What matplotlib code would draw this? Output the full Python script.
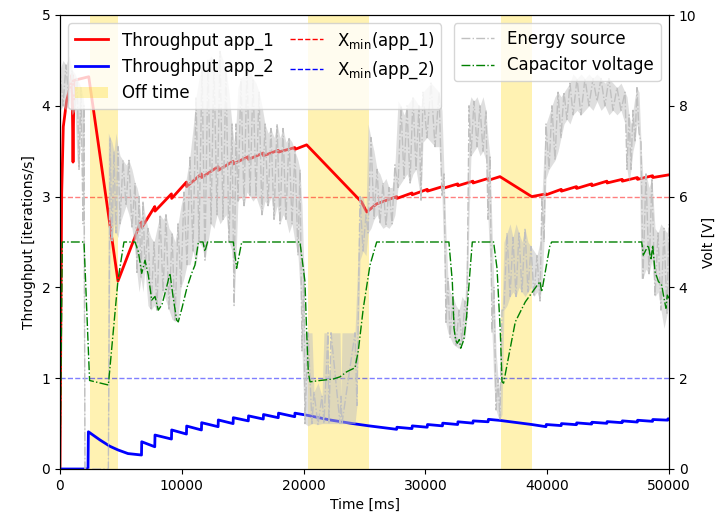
import matplotlib
matplotlib.use("Agg")
import matplotlib.pyplot as plt
import numpy as np
from matplotlib.patches import Patch

# ---- throughput of app_1 [iterations/s] ----
app1_t = [0, 80, 140, 270, 550, 820, 985, 1070, 1150, 2360, 4760,
          6570, 6710, 6720, 7780, 7800, 9150, 9170, 10380, 10400, 11610, 11630,
          12980, 13000, 14210, 14230, 15460, 15480, 16690, 16710, 17920, 17940,
          19270, 19290, 20250, 24760, 25180, 26000,
          27640, 27660, 28900, 28920, 30150, 30170, 31400, 31420, 32650, 32670,
          33900, 33920, 35150, 35170, 36120, 38730,
          39900, 39920, 41150, 41170, 42400, 42420, 43650, 43670, 44900, 44920,
          46150, 46170, 47400, 47420, 48650, 48670, 50000]
app1_v = [0.0, 1.86, 3.04, 3.77, 4.06, 4.20, 4.34, 3.38, 4.28, 4.32, 2.07,
          2.70, 2.72, 2.66, 2.89, 2.84, 3.03, 2.98, 3.16, 3.11, 3.25, 3.21,
          3.33, 3.29, 3.39, 3.36, 3.44, 3.41, 3.48, 3.45, 3.51, 3.49,
          3.54, 3.52, 3.57, 2.94, 2.83, 2.92,
          3.00, 2.98, 3.04, 3.02, 3.08, 3.06, 3.11, 3.09, 3.14, 3.12,
          3.17, 3.15, 3.20, 3.18, 3.22, 3.00,
          3.03, 3.02, 3.08, 3.06, 3.11, 3.09, 3.14, 3.12, 3.17, 3.15,
          3.19, 3.17, 3.21, 3.19, 3.23, 3.21, 3.24]

# ---- throughput of app_2 [iterations/s] ----
app2_t = [0, 2300, 2330, 3280, 4100, 4760, 5580, 6690, 6710,
          7780, 7800, 9150, 9170, 10380, 10400, 11610, 11630, 12980, 13000,
          14210, 14230, 15460, 15480, 16690, 16710, 17920, 17940, 19270, 19290,
          20360, 22170, 24050, 25370, 26270, 27640, 27660, 28900, 28920,
          30150, 30170, 31400, 31420, 32650, 32670, 33900, 33920, 35150, 35170,
          36120, 38730, 39900, 39920, 41150, 41170, 42400, 42420, 43650, 43670,
          44900, 44920, 46150, 46170, 47400, 47420, 48650, 48670, 49900, 49920, 50000]
app2_v = [0.0, 0.0, 0.41, 0.32, 0.25, 0.21, 0.17, 0.154, 0.30,
          0.245, 0.374, 0.33, 0.43, 0.385, 0.473, 0.43, 0.51, 0.466, 0.54,
          0.50, 0.565, 0.53, 0.585, 0.55, 0.60, 0.565, 0.615, 0.576, 0.615,
          0.59, 0.54, 0.50, 0.475, 0.46, 0.437, 0.46, 0.445, 0.475,
          0.46, 0.49, 0.475, 0.505, 0.49, 0.52, 0.505, 0.53, 0.52, 0.547,
          0.535, 0.49, 0.466, 0.49, 0.478, 0.50, 0.488, 0.508, 0.495, 0.515,
          0.503, 0.522, 0.51, 0.53, 0.517, 0.537, 0.525, 0.545, 0.538, 0.553, 0.552]

# ---- minimum required throughput ----
xmin_app1 = 3.0
xmin_app2 = 1.0

# ---- off-time intervals [ms] ----
off_start = [2460, 20360, 36210]
off_end = [4760, 25370, 38750]

# ---- capacitor voltage [V] ----
cap_t = [0, 190, 1970, 2430, 3970, 4760, 5250, 6160, 6430, 6710, 6980, 7250, 7530,
         7800, 8070, 8370, 8700, 9030, 9280, 9580, 9710, 10020, 10430, 10810,
         11080, 11360, 11740, 11900, 12110, 14230, 14500, 14920, 19700, 20110,
         20250, 20390, 20530, 21350, 22410, 22990, 23530, 24220, 24490, 24900,
         25450, 26000, 31930, 32210, 32350, 32480, 32620, 32780, 32900, 33160,
         33390, 33660, 33850, 35600, 35880, 36150, 36290, 36420, 36700, 37380,
         38200, 39000, 39410, 39550, 40230, 40370, 47760, 47890, 48300, 48520,
         48660, 48850, 49130, 49400, 49590, 49750, 49860, 50000]
cap_v = [0.0, 5.0, 5.0, 1.95, 1.85, 4.16, 5.0, 5.0, 4.79, 4.31, 4.60, 4.27, 3.72,
         3.80, 3.50, 3.62, 3.95, 4.31, 3.80, 3.28, 3.24, 3.55, 4.00, 4.31,
         4.49, 5.0, 5.0, 4.79, 5.0, 5.0, 4.42, 5.0, 5.0, 4.13,
         3.02, 2.11, 1.92, 1.95, 1.98, 2.03, 2.14, 2.23, 2.60, 3.54,
         4.49, 5.0, 5.0, 4.13, 3.10, 2.84, 2.77, 2.85, 2.66, 2.85,
         3.39, 4.35, 5.0, 5.0, 4.42, 3.02, 1.92, 1.89, 2.29, 3.24,
         3.68, 3.98, 4.13, 3.90, 4.93, 5.0, 5.0, 4.71, 4.93, 4.60,
         4.93, 4.35, 4.13, 4.05, 3.76, 3.54, 3.83, 3.76]

# ---- energy source [V]: lower / upper extent of the trace ----
src_t = [0, 250, 490, 740, 990, 1230, 1400, 1560, 1720, 1890, 1970, 2050, 3900,
         3970, 4110, 4270, 4430, 4600, 4760, 4930, 5170, 5420, 5660, 5910, 6160,
         6320, 6490, 6650, 6810, 6980, 7220, 7470, 7720, 7960, 8210, 8460, 8700,
         8950, 9200, 9440, 9690, 9930, 10180, 10430, 10670, 10920, 11170, 11410,
         11660, 11900, 12150, 12400, 12640, 12890, 13140, 13380, 13630, 13870,
         14120, 14290, 14450, 14610, 14860, 15110, 15350, 15600, 15850, 16090,
         16340, 16580, 16830, 17080, 17320, 17570, 17820, 18060, 18310, 18550,
         18800, 19050, 19290, 19540, 19700, 19870, 20030, 20110, 20360, 20690,
         20850, 21180, 21510, 21670, 22000, 22080, 22250, 22990, 23070, 23150,
         24220, 24380, 24630, 24880, 25120, 25290, 25530, 25780, 26030, 26270,
         26520, 26760, 27010, 27260, 27500, 27750, 28000, 28240, 28490, 28740,
         28980, 29230, 29470, 29640, 29800, 30130, 30460, 30790, 31120, 31360,
         31530, 31690, 31850, 32020, 32270, 32510, 32760, 33000, 33250, 33410,
         33580, 33740, 33990, 34240, 34480, 34730, 34970, 35140, 35300, 35470,
         35630, 35800, 35960, 36120, 36290, 36450, 36700, 36950, 37190, 37440,
         37680, 37930, 38180, 38420, 38670, 38920, 39160, 39410, 39570, 39740,
         39900, 40150, 40390, 40640, 40890, 41130, 41380, 41620, 41870, 42120,
         42450, 42770, 43100, 43430, 43760, 44090, 44420, 44740, 45070, 45400,
         45730, 46060, 46390, 46550, 46720, 46880, 47040, 47210, 47370, 47540,
         47700, 47860, 48110, 48360, 48600, 48850, 49100, 49340, 49590, 49830, 50000]
src_lo = [7.9, 8.0, 7.9, 8.1, 7.8, 7.9, 6.8, 6.6, 7.5, 5.4, 0.0, 0.0, 0.0,
          0.0, 5.2, 5.0, 5.4, 5.2, 5.1, 5.4, 5.6, 5.8, 5.6, 5.3, 4.8,
          4.3, 3.9, 4.2, 3.9, 4.4, 3.6, 3.5, 3.6, 3.5, 3.6, 3.9, 3.7,
          3.5, 3.3, 3.25, 3.3, 4.0, 4.2, 4.5, 4.5, 4.8, 4.5, 5.0,
          4.9, 4.6, 5.0, 5.4, 5.3, 5.6, 5.4, 5.5, 5.6, 5.0,
          4.8, 3.6, 4.6, 5.9, 6.0, 5.8, 6.1, 6.0, 5.9, 6.0,
          5.8, 5.6, 5.9, 5.8, 6.0, 5.5, 5.8, 5.4, 5.6, 5.5,
          5.2, 5.4, 5.0, 4.7, 4.0, 2.6, 1.2, 1.0, 0.95, 1.0,
          1.0, 0.98, 1.0, 1.0, 1.0, 1.0, 1.0, 1.0, 1.0, 1.0,
          1.0, 1.4, 4.6, 4.8, 4.7, 5.2, 5.3, 5.5, 5.6, 5.4,
          5.3, 5.35, 5.3, 5.4, 5.6, 6.2, 6.3, 6.4, 6.5, 6.3,
          6.5, 6.6, 6.2, 5.9, 7.2, 7.3, 7.2, 7.1, 7.1, 6.0,
          4.5, 3.2, 3.0, 2.9, 2.75, 2.7, 2.65, 2.8, 2.9, 3.3,
          5.5, 6.9, 7.0, 7.1, 6.9, 7.0, 6.8, 5.5, 4.5, 3.0,
          1.8, 1.3, 1.15, 1.1, 1.2, 3.5, 3.6, 3.8, 3.9, 3.8,
          4.0, 3.9, 3.8, 3.9, 4.0, 3.8, 3.9, 3.7, 4.1, 5.0,
          6.4, 6.6, 6.7, 6.8, 7.0, 7.3, 7.6, 7.7, 7.6, 7.8,
          7.9, 7.8, 7.9, 8.0, 7.9, 8.1, 7.9, 8.0, 7.8, 7.9,
          7.8, 7.9, 7.6, 6.6, 6.3, 6.6, 7.0, 7.2, 7.6, 7.4,
          4.2, 4.2, 4.4, 4.3, 4.6, 3.8, 3.9, 3.5, 3.1, 3.4, 3.6]
src_hi = [8.8, 9.0, 8.9, 9.1, 8.8, 8.7, 8.6, 8.5, 8.4, 8.2, 8.0, 0.0, 0.0,
          7.4, 7.3, 7.2, 7.0, 7.4, 7.1, 6.9, 6.8, 6.7, 6.8, 6.6, 6.3,
          6.2, 6.0, 5.5, 5.9, 5.6, 5.3, 5.1, 5.0, 5.3, 5.6, 5.5, 5.6,
          5.3, 5.2, 5.0, 5.4, 5.8, 6.1, 6.5, 6.9, 7.5, 8.2, 8.6,
          8.9, 8.8, 9.0, 9.1, 9.0, 8.9, 9.2, 9.0, 8.8, 8.3,
          7.6, 7.2, 7.6, 8.4, 8.6, 8.7, 8.9, 8.8, 8.6, 8.5,
          8.3, 8.0, 7.6, 7.4, 7.5, 7.3, 7.6, 7.3, 7.5, 7.2,
          7.3, 7.2, 7.0, 6.8, 6.6, 5.8, 4.4, 3.0, 3.0, 3.0,
          1.7, 1.9, 1.6, 3.0, 3.0, 1.7, 3.0, 3.0, 1.6, 3.0,
          3.0, 4.1, 6.0, 6.0, 5.6, 7.6, 7.3, 7.0, 6.6, 6.5,
          6.3, 6.4, 6.2, 6.2, 6.7, 8.1, 8.0, 7.8, 8.0, 8.1,
          8.2, 8.1, 8.0, 8.0, 8.3, 8.4, 8.5, 8.4, 8.3, 7.9,
          6.5, 5.2, 4.2, 3.9, 3.8, 3.6, 3.5, 3.8, 3.7, 5.0,
          8.0, 8.2, 8.1, 8.2, 8.0, 8.2, 7.9, 7.3, 6.9, 5.3,
          4.0, 2.6, 2.0, 1.7, 3.5, 5.0, 5.2, 5.4, 5.1, 5.4,
          5.2, 5.0, 5.3, 5.0, 4.9, 4.8, 4.7, 5.0, 6.0, 7.0,
          7.6, 7.8, 8.0, 8.2, 8.3, 8.2, 8.3, 8.4, 8.5, 8.7,
          8.6, 8.7, 8.6, 8.7, 8.6, 8.7, 8.6, 8.5, 8.6, 8.5,
          8.4, 8.5, 8.3, 8.2, 7.8, 7.6, 7.9, 8.2, 8.4, 8.3,
          7.2, 6.4, 6.5, 6.2, 6.4, 5.3, 5.2, 5.4, 5.3, 5.2, 5.4]

x_ticks = [0, 10000, 20000, 30000, 40000, 50000]

fig = plt.figure(figsize=(7.28, 5.24), dpi=100)
ax1 = fig.add_axes([60 / 728, 55 / 524, 609 / 728, 454 / 524])
ax2 = ax1.twinx()

# off-time shading
for a, b in zip(off_start, off_end):
    ax1.axvspan(a, b, color="gold", alpha=0.3, lw=0)

l1, = ax1.plot(app1_t, app1_v, color="red", lw=2, label="Throughput app_1")
l2, = ax1.plot(app2_t, app2_v, color="blue", lw=2, label="Throughput app_2")
ax1.axhline(xmin_app1, color="red", ls="--", lw=1, alpha=0.5)
ax1.axhline(xmin_app2, color="blue", ls="--", lw=1, alpha=0.5)

ax1.set_xlim(0, 50000)
ax1.set_ylim(0, 5)
ax1.set_xticks(x_ticks)
ax1.set_xlabel("Time [ms]")
ax1.set_ylabel("Throughput [iterations/s]")

# energy source trace: extent band plus a zig-zag between the extremes
src_t = np.asarray(src_t, float)
src_lo = np.asarray(src_lo, float)
src_hi = np.asarray(src_hi, float)
ax2.fill_between(src_t, src_lo, src_hi, color="silver", alpha=0.5, lw=0)
zig = np.where(np.arange(len(src_t)) % 2 == 0, src_hi, src_lo)
ax2.plot(src_t, zig, color="silver", ls="-.", lw=1)
c_line, = ax2.plot(cap_t, cap_v, color="green", ls="-.", lw=1)
ax2.set_ylim(0, 10)
ax2.set_ylabel("Volt [V]")

xmin1_handle = plt.Line2D([], [], color="red", ls="--", lw=1)
xmin2_handle = plt.Line2D([], [], color="blue", ls="--", lw=1)
off_handle = Patch(facecolor="gold", alpha=0.3, edgecolor="none")

leg1 = ax2.legend([l1, l2, off_handle, xmin1_handle, xmin2_handle],
                  ["Throughput app_1", "Throughput app_2", "Off time",
                   r"X$_{\rm min}$(app_1)", r"X$_{\rm min}$(app_2)"],
                  ncol=2, loc="upper left", fontsize=12, columnspacing=1.0)
ax2.add_artist(leg1)
energy_handle = plt.Line2D([], [], color="silver", ls="-.", lw=1)
ax2.legend([energy_handle, c_line], ["Energy source", "Capacitor voltage"],
           loc="upper right", fontsize=12)

fig.savefig("out.png", dpi=100)
